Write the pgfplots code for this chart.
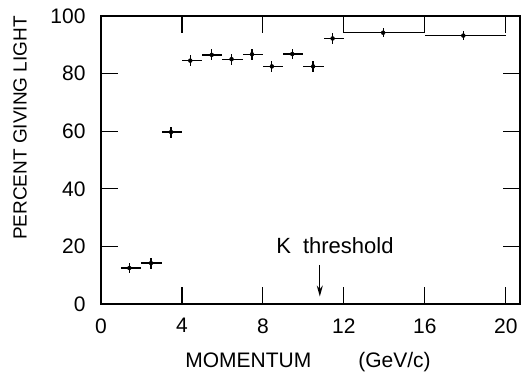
\documentclass[border=0pt]{standalone}
\usepackage{fontspec}
\setmainfont{Liberation Sans}
\usepackage{pgfplots}
\pgfplotsset{compat=1.18}
\usetikzlibrary{arrows.meta}
\begin{document}
\begin{tikzpicture}
\begin{axis}[
 name=ax,
 scale only axis,
 width=419bp, height=288bp,
 xmin=0, xmax=20.7, ymin=0, ymax=100,
 xtick={0,4,8,12,16,20}, ytick={0,20,40,60,80,100},
 tick align=inside,
 xtick pos=both, ytick pos=both,
 major tick length=17bp,
 tick style={line width=1.1bp, black},
 axis line style={line width=1.3bp},
 /pgf/number format/assume math mode=true,
 tick label style={font=\fontsize{21bp}{25bp}\selectfont},
 xticklabel style={yshift=-11bp},
 yticklabel style={xshift=-12bp},
 xlabel={MOMENTUM\hspace{47bp}(GeV/c)},
 ylabel={PERCENT GIVING LIGHT},
 every axis x label/.style={at={(rel axis cs:0.494,0)}, anchor=center, yshift=-58bp, font=\fontsize{21bp}{25bp}\selectfont},
 every axis y label/.style={at={(rel axis cs:0,0.611)}, xshift=-81bp, anchor=center, rotate=90, font=\fontsize{19bp}{23bp}\selectfont},
 clip=false,
]
\addplot[only marks, mark=none, black,
  error bars/.cd, x dir=both, x explicit, y dir=both, y explicit,
  error mark=none, error bar style={line width=1.3bp, black}]
  table[x=x, y=y, x error plus=xp, x error minus=xm, y error=ey] {
x     y     xm    xp    ey
1.40  12.5  0.42  0.58  1.9
2.47  14.2  0.47  0.53  1.9
3.46  59.7  0.46  0.54  1.9
4.41  84.5  0.41  0.59  1.9
5.47  86.5  0.47  0.53  1.9
6.45  85.0  0.45  0.55  1.9
7.46  86.7  0.46  0.54  1.9
8.44  82.5  0.44  0.56  1.9
9.45  86.8  0.45  0.55  1.9
10.48 82.5  0.48  0.55  1.9
11.44 92.2  0.44  0.56  1.9
13.94 94.2  1.94  2.06  1.6
17.90 93.2  1.90  2.10  1.6
};
\draw[-{Stealth[length=11bp,width=6bp]}, line width=1.3bp] (axis cs:10.81,13.6) -- (axis cs:10.81,2.6);
\node[font=\fontsize{22bp}{26bp}\selectfont] at (axis cs:11.56,20.3) {K\hspace{12bp}threshold};
\end{axis}
\pgfresetboundingbox
\path ([shift={(-101bp,-72bp)}]ax.south west) rectangle ([shift={(1bp,16bp)}]ax.north east);
\end{tikzpicture}
\end{document}
